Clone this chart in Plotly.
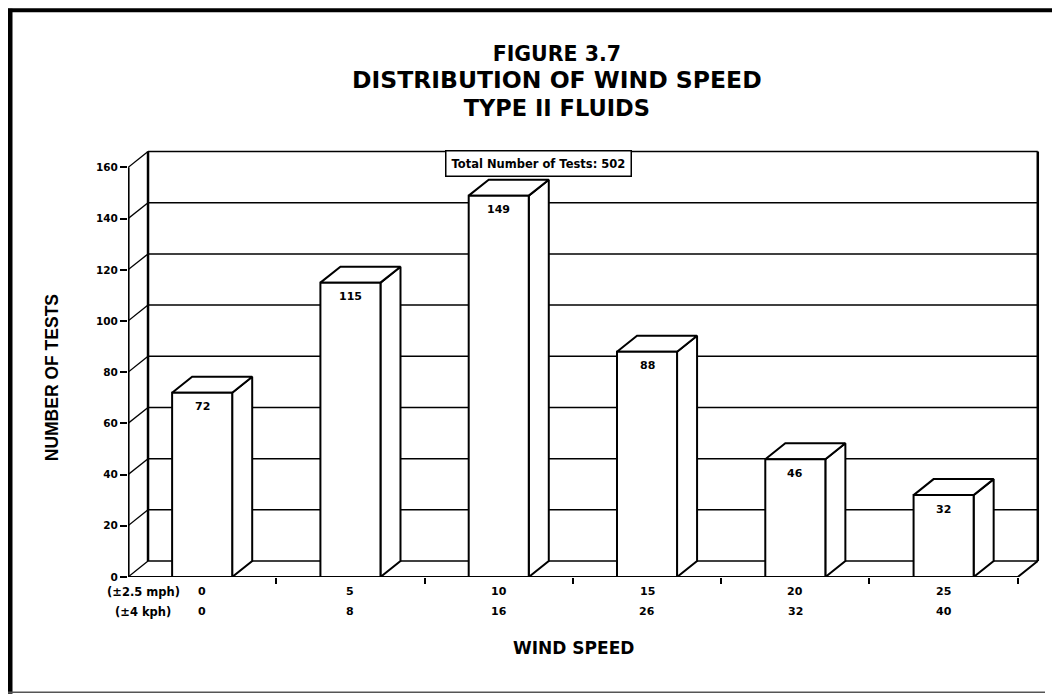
import plotly.graph_objects as go

# ---------------- data ----------------
mph_labels = ["0", "5", "10", "15", "20", "25"]
kph_labels = ["0", "8", "16", "26", "32", "40"]
counts = [72, 115, 149, 88, 46, 32]
y_ticks = [0, 20, 40, 60, 80, 100, 120, 140, 160]
row_headers = ["(±2.5 mph)", "(±4 kph)"]
total_label = "Total Number of Tests: 502"
title_lines = ["FIGURE 3.7", "DISTRIBUTION OF WIND SPEED", "TYPE II FLUIDS"]
x_title = "WIND SPEED"
y_title = "NUMBER OF TESTS"

# ---------------- layout constants ----------------
OFF = 8                      # page body margin of the html page
W, H = 1060 - OFF, 694 - OFF
ML, MR, MT, MB = 120, 20, 138.5, 117
X_RANGE = [-0.5, 5.65]
Y_RANGE = [0, 168]
BAR_W = 0.405     # bar width in category units
DX = 0.135        # 3-D depth offset (category units)
DY = 6.24         # 3-D depth offset (value units)
FONT = "DejaVu Sans"
ARIAL = "Liberation Sans, Arial, sans-serif"

PW = W - ML - MR
PH = H - MT - MB


def px(x):
    """window pixel x -> paper fraction"""
    return (x - OFF - ML) / PW


def py(y):
    """window pixel y -> paper fraction"""
    return (H - MB - (y - OFF)) / PH


n = len(counts)
cats = list(range(n))
x_lo, x_hi = -0.5, n - 0.5
y_top = y_ticks[-1]

fig = go.Figure()


def add_lines(xs, ys, width, color="black"):
    fig.add_trace(go.Scatter(x=xs, y=ys, mode="lines",
                             line=dict(color=color, width=width),
                             hoverinfo="skip", showlegend=False))


# back wall gridlines
gx, gy = [], []
for v in y_ticks:
    gx += [x_lo + DX, x_hi + DX, None]
    gy += [v + DY, v + DY, None]
add_lines(gx, gy, 1.5)

# left wall diagonals
dx_, dy_ = [], []
for v in y_ticks:
    dx_ += [x_lo, x_lo + DX, None]
    dy_ += [v, v + DY, None]
add_lines(dx_, dy_, 1.3)

# back wall vertical edges
add_lines([x_lo + DX, x_lo + DX, None, x_hi + DX, x_hi + DX],
          [DY, y_top + DY, None, DY, y_top + DY], 2.5)

# floor front edge and right diagonal
add_lines([x_lo, x_hi, x_hi + DX], [0, 0, DY], 2)

# front value axis
add_lines([x_lo, x_lo], [0, y_top], 3.2)

# bars (side, top, front)
sx, sy, tx, ty, fx, fy = [], [], [], [], [], []
for c, v in zip(cats, counts):
    a, b = c - BAR_W / 2, c + BAR_W / 2
    sx += [b, b + DX, b + DX, b, b, None]
    sy += [0, DY, v + DY, v, 0, None]
    tx += [a, b, b + DX, a + DX, a, None]
    ty += [v, v, v + DY, v + DY, v, None]
    fx += [a, b, b, a, a, None]
    fy += [0, 0, v, v, 0, None]
for xs, ys in [(sx, sy), (tx, ty), (fx, fy)]:
    fig.add_trace(go.Scatter(x=xs, y=ys, mode="lines", fill="toself",
                             fillcolor="white",
                             line=dict(color="black", width=2),
                             hoverinfo="skip", showlegend=False))

annotations = []


def ann(**kw):
    kw.setdefault("showarrow", False)
    kw.setdefault("xanchor", "center")
    kw.setdefault("yanchor", "middle")
    annotations.append(kw)


def bold(size, family=FONT):
    return dict(family=family, size=size, color="black", weight="bold")


# value labels inside the bars
for c, v in zip(cats, counts):
    ann(x=c, y=v, xref="x", yref="y", text=str(v), yshift=-14, font=bold(11))

# x label rows (mph and kph)
for c, m, k in zip(cats, mph_labels, kph_labels):
    ann(x=c, y=py(592), xref="x", yref="paper", text=m, font=bold(11))
    ann(x=c, y=py(612), xref="x", yref="paper", text=k, font=bold(11))

# row headers
ann(x=px(143.5), y=py(592), xref="paper", yref="paper", text=row_headers[0], font=bold(11.5))
ann(x=px(142.5), y=py(612), xref="paper", yref="paper", text=row_headers[1], font=bold(11.5))

# title block (one text, three lines)
title_sizes = [20.5, 23.5, 22.5]
title_text = "<br>".join(
    f"<span style='font-size:{s}px'>{t}</span>" for t, s in zip(title_lines, title_sizes))
ann(x=px(557), y=py(81), xref="paper", yref="paper", text=title_text, font=bold(21))

# total box
ann(x=px(538), y=py(163.5), xref="paper", yref="paper", text=total_label,
    bgcolor="white", bordercolor="black", borderwidth=1.5, borderpad=5,
    font=bold(11.5))

# axis titles
ann(x=px(51.5), y=py(377.5), xref="paper", yref="paper",
    text=y_title, textangle=-90, font=bold(17.5, ARIAL))
ann(x=px(573), y=py(648), xref="paper", yref="paper",
    text=x_title, font=bold(17))

# page frame
shapes = [
    dict(type="line", xref="paper", yref="paper", x0=px(10), x1=px(10),
         y0=py(8), y1=py(694), line=dict(color="black", width=5)),
    dict(type="line", xref="paper", yref="paper", x0=px(8), x1=px(1060),
         y0=py(9.5), y1=py(9.5), line=dict(color="black", width=4)),
    dict(type="line", xref="paper", yref="paper", x0=px(8), x1=px(1045),
         y0=py(692.5), y1=py(692.5), line=dict(color="#555555", width=1.5)),
]

fig.update_layout(
    width=W, height=H,
    margin=dict(l=ML, r=MR, t=MT, b=MB, pad=0),
    paper_bgcolor="white", plot_bgcolor="white",
    showlegend=False,
    annotations=annotations,
    shapes=shapes,
    font=dict(family=FONT, color="black"),
    xaxis=dict(range=X_RANGE, showgrid=False, zeroline=False, showline=False,
               tickvals=cats, showticklabels=False,
               ticks="outside", ticklen=6, tickcolor="rgba(0,0,0,0)",
               minor=dict(tickvals=[c + 0.5 for c in cats], ticks="outside",
                          ticklen=6, tickwidth=1.5, tickcolor="black"),
               fixedrange=True),
    yaxis=dict(range=Y_RANGE, showgrid=False, zeroline=False, showline=False,
               tickvals=y_ticks, ticks="outside", ticklen=7, tickwidth=1.5,
               tickcolor="black",
               tickfont=bold(10.5),
               fixedrange=True),
)

fig.write_html("out.html")
